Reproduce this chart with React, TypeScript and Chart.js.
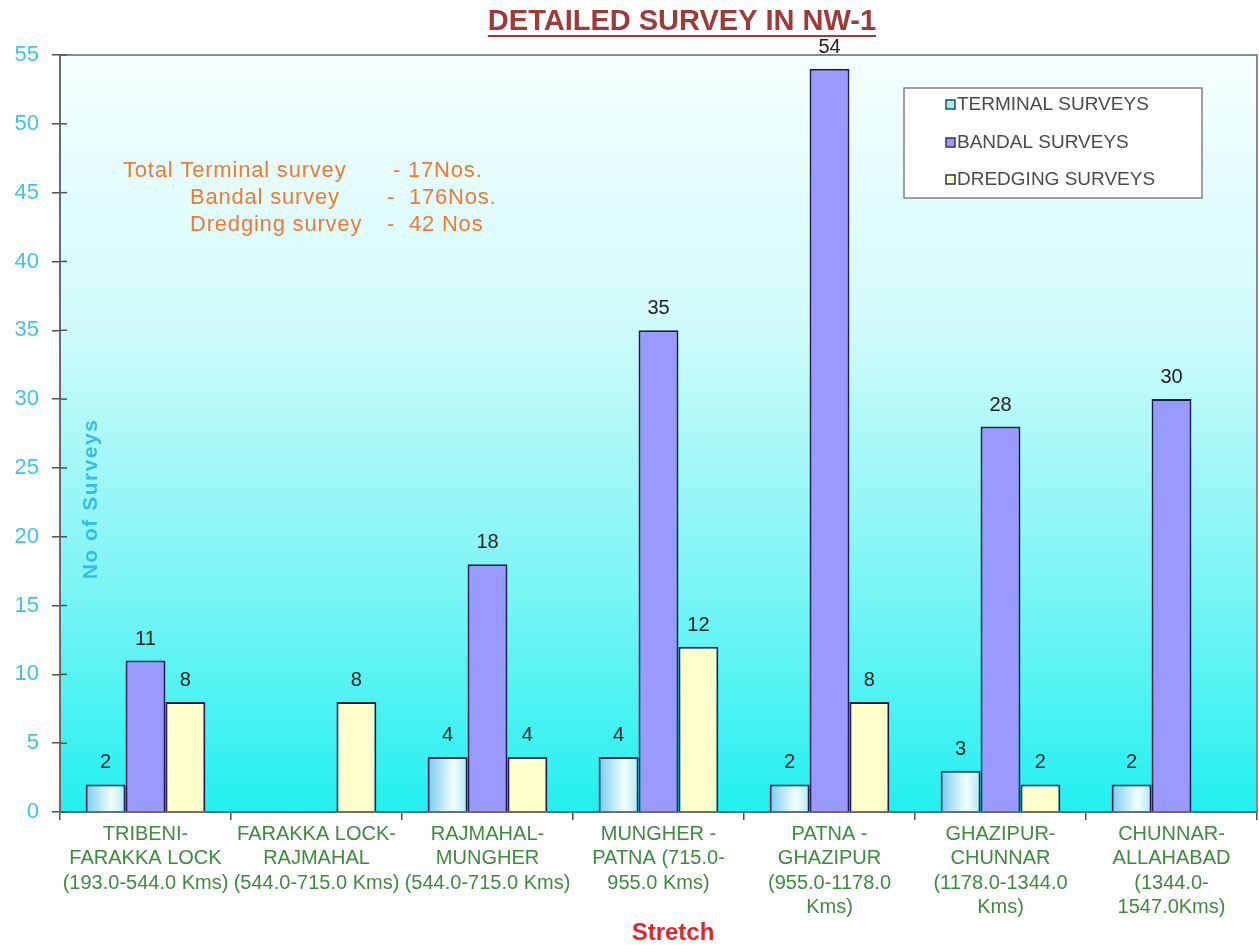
import React, { useEffect, useRef } from "react";
import { Chart, registerables } from "chart.js";

Chart.register(...registerables);

const categories: string[][] = [
  ["TRIBENI-", "FARAKKA LOCK", "(193.0-544.0 Kms)"],
  ["FARAKKA LOCK-", "RAJMAHAL", "(544.0-715.0 Kms)"],
  ["RAJMAHAL-", "MUNGHER", "(544.0-715.0 Kms)"],
  ["MUNGHER -", "PATNA (715.0-", "955.0 Kms)"],
  ["PATNA -", "GHAZIPUR", "(955.0-1178.0", "Kms)"],
  ["GHAZIPUR-", "CHUNNAR", "(1178.0-1344.0", "Kms)"],
  ["CHUNNAR-", "ALLAHABAD", "(1344.0-", "1547.0Kms)"],
];
const terminalSurveys = [2, 0, 4, 4, 2, 3, 2];
const bandalSurveys = [11, 0, 18, 35, 54, 28, 30];
const dredgingSurveys = [8, 8, 4, 12, 8, 2, 0];
const seriesNames = ["TERMINAL SURVEYS", "BANDAL SURVEYS", "DREDGING SURVEYS"];
const yMin = 0;
const yMax = 55;
const yStep = 5;
const titleText = "DETAILED SURVEY IN NW-1";
const yTitle = "No of Surveys";
const xTitle = "Stretch";
const noteLabels = ["Total Terminal survey", "Bandal survey", "Dredging survey"];
const noteValues = ["- 17Nos.", "-  176Nos.", "-  42 Nos"];

const FONT = "'Liberation Sans', Arial, sans-serif";
const BAND = "#9999FF";
const DREDGE = "#FFFFCC";
const EDGE = "#1c1c4a";

const decorPlugin = {
  id: "decor",
  beforeDraw(chart: any) {
    const { ctx, chartArea: a } = chart;
    ctx.save();
    ctx.fillStyle = "#ffffff";
    ctx.fillRect(0, 0, chart.width, chart.height);
    const g = ctx.createLinearGradient(0, a.top, 0, a.bottom);
    g.addColorStop(0, "#F6FFFF");
    g.addColorStop(0.35, "#D2FBFB");
    g.addColorStop(0.7, "#7CF5F5");
    g.addColorStop(1, "#22F0F0");
    ctx.fillStyle = g;
    ctx.fillRect(a.left, a.top, a.right - a.left, a.bottom - a.top);
    ctx.strokeStyle = "#8a8a8a";
    ctx.lineWidth = 2;
    ctx.beginPath();
    ctx.moveTo(a.left, a.top);
    ctx.lineTo(a.right, a.top);
    ctx.lineTo(a.right, a.bottom);
    ctx.stroke();
    ctx.restore();
  },
  beforeDatasetsDraw(chart: any) {
    const meta = chart.getDatasetMeta(0);
    meta.data.forEach((el: any) => {
      const { x, width } = el.getProps(["x", "width"], true);
      const left = x - width / 2;
      const g = chart.ctx.createLinearGradient(left, 0, left + width, 0);
      g.addColorStop(0, "#78CCEC");
      g.addColorStop(0.65, "#F2FFFF");
      g.addColorStop(1, "#B0E8F4");
      el.options = Object.assign({}, el.options, { backgroundColor: g });
    });
  },
  afterDatasetsDraw(chart: any) {
    const { ctx } = chart;
    ctx.save();
    ctx.font = `20px ${FONT}`;
    ctx.fillStyle = "#222222";
    ctx.textAlign = "center";
    ctx.textBaseline = "alphabetic";
    chart.data.datasets.forEach((ds: any, i: number) => {
      const meta = chart.getDatasetMeta(i);
      meta.data.forEach((el: any, j: number) => {
        const v = ds.data[j];
        if (!v) return;
        ctx.fillText(String(v), el.x, el.y - 16);
      });
    });
    ctx.restore();
  },
  afterDraw(chart: any) {
    const { ctx, chartArea: a } = chart;
    ctx.save();
    const ys = chart.scales.y;
    ctx.strokeStyle = "#505050";
    ctx.lineWidth = 1.5;
    ys.ticks.forEach((t: any) => {
      const py = ys.getPixelForValue(t.value);
      ctx.beginPath();
      ctx.moveTo(a.left, py);
      ctx.lineTo(a.left + 7, py);
      ctx.stroke();
    });

    ctx.font = `bold 29px ${FONT}`;
    ctx.fillStyle = "#9E3A3A";
    ctx.textAlign = "center";
    ctx.textBaseline = "alphabetic";
    ctx.fillText(titleText, 682, 30);
    const tw = ctx.measureText(titleText).width;
    ctx.strokeStyle = "#9E3A3A";
    ctx.lineWidth = 2;
    ctx.beginPath();
    ctx.moveTo(682 - tw / 2, 36);
    ctx.lineTo(682 + tw / 2, 36);
    ctx.stroke();

    ctx.font = `22px ${FONT}`;
    (ctx as any).letterSpacing = "0.8px";
    ctx.fillStyle = "#EE7A33";
    ctx.textAlign = "left";
    ctx.textBaseline = "middle";
    const noteX = [123, 190, 190];
    const valX = [393, 387, 387];
    const noteY = [171, 198, 225];
    noteLabels.forEach((t, i) => {
      ctx.fillText(t, noteX[i], noteY[i]);
      ctx.fillText(noteValues[i], valX[i], noteY[i]);
    });
    (ctx as any).letterSpacing = "0px";

    ctx.fillStyle = "#ffffff";
    ctx.fillRect(904, 88, 298, 110);
    ctx.strokeStyle = "#808080";
    ctx.lineWidth = 1.5;
    ctx.strokeRect(904, 88, 298, 110);
    const legY = [105, 143, 180];
    const fills = ["#A8EAF2", BAND, DREDGE];
    const borders = ["#1F5050", "#333366", "#333333"];
    ctx.font = `19px ${FONT}`;
    ctx.textBaseline = "middle";
    seriesNames.forEach((n, i) => {
      ctx.fillStyle = fills[i];
      ctx.fillRect(946, legY[i] - 5, 9, 9);
      ctx.strokeStyle = borders[i];
      ctx.lineWidth = 1.5;
      ctx.strokeRect(946, legY[i] - 5, 9, 9);
      ctx.fillStyle = "#4a4a4a";
      ctx.fillText(n, 957, legY[i]);
    });

    ctx.save();
    ctx.translate(91, 499);
    ctx.rotate(-Math.PI / 2);
    ctx.font = `bold 21px ${FONT}`;
    (ctx as any).letterSpacing = "1.5px";
    ctx.fillStyle = "#36BDEB";
    ctx.textAlign = "center";
    ctx.textBaseline = "middle";
    ctx.fillText(yTitle, 0, 0);
    ctx.restore();

    ctx.font = `bold 24px ${FONT}`;
    ctx.fillStyle = "#E0282A";
    ctx.textAlign = "center";
    ctx.textBaseline = "middle";
    ctx.fillText(xTitle, 673, 933);
    ctx.restore();
  },
};

export default function App() {
  const ref = useRef<HTMLCanvasElement | null>(null);
  useEffect(() => {
    if (!ref.current) return;
    const zeroless = (c: any) => (c.raw === 0 ? 0 : 2);
    const chart = new Chart(ref.current, {
      type: "bar",
      data: {
        labels: categories,
        datasets: [
          { label: seriesNames[0], data: terminalSurveys, backgroundColor: "#B0E8F4", borderColor: EDGE, borderWidth: zeroless },
          { label: seriesNames[1], data: bandalSurveys, backgroundColor: BAND, borderColor: EDGE, borderWidth: zeroless },
          { label: seriesNames[2], data: dredgingSurveys, backgroundColor: DREDGE, borderColor: EDGE, borderWidth: zeroless },
        ],
      },
      options: {
        responsive: false,
        animation: false,
        devicePixelRatio: 1,
        datasets: { bar: { categoryPercentage: 0.7, barPercentage: 1 } },
        layout: { padding: { top: 55, left: 0, right: 2, bottom: 0 } },
        plugins: {
          legend: { display: false },
          title: { display: false },
          tooltip: { enabled: false },
        },
        scales: {
          x: {
            offset: true,
            grid: { display: true, drawOnChartArea: false, drawTicks: true, tickLength: 8, offset: true, color: "#505050", lineWidth: 1.5 },
            border: { display: true, color: "#6a6a6a", width: 2 },
            ticks: {
              color: "#3F8A3F",
              font: { family: FONT, size: 20, lineHeight: 1.22 },
              maxRotation: 0,
              minRotation: 0,
              autoSkip: false,
              padding: 2,
            },
            afterFit(s: any) {
              s.height = 133;
            },
          },
          y: {
            min: yMin,
            max: yMax,
            ticks: { stepSize: yStep, color: "#40C4E4", font: { family: FONT, size: 22 }, padding: 13 },
            grid: { drawOnChartArea: false, tickLength: 8, color: "#505050", lineWidth: 1.5 },
            border: { display: true, color: "#6a6a6a", width: 2 },
            afterFit(s: any) {
              s.width = 60;
            },
          },
        },
      },
      plugins: [decorPlugin],
    } as any);
    return () => chart.destroy();
  }, []);
  return (
    <div style={{ position: "fixed", left: 0, top: 0, width: 1259, height: 945, background: "#fff" }}>
      <canvas ref={ref} width={1259} height={945} style={{ display: "block" }} />
    </div>
  );
}
